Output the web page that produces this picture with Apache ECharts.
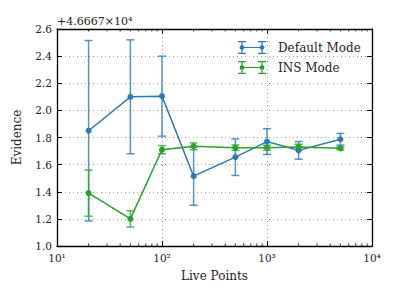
<!DOCTYPE html>
<html><head><meta charset="utf-8">
<script src="https://cdn.jsdelivr.net/npm/echarts@6/dist/echarts.min.js"></script>
<style>html,body{margin:0;padding:0;background:#fff}#c{width:399px;height:299px}</style>
</head><body><div id="c"></div>
<script>
// Data (evidence offsets relative to 4.6667e4)
const livePoints = [20, 50, 100, 200, 500, 1000, 2000, 5000];
const defaultMean = [1.85, 2.10, 2.105, 1.515, 1.655, 1.77, 1.705, 1.787];
const defaultErr  = [0.665, 0.42, 0.295, 0.215, 0.135, 0.095, 0.065, 0.043];
const insMean = [1.39, 1.20, 1.71, 1.735, 1.725, 1.725, 1.73, 1.72];
const insErr  = [0.17, 0.06, 0.03, 0.025, 0.02, 0.018, 0.02, 0.01];
const yTicks = [1.0, 1.2, 1.4, 1.6, 1.8, 2.0, 2.2, 2.4, 2.6];
const offsetLabel = '+4.6667×10⁴';
const seriesNames = ['Default Mode', 'INS Mode'];

const BLUE = '#2a7ab8', GREEN = '#2ca02c';
const FONT = 'DejaVu Serif';
const sup = {1:'¹',2:'²',3:'³',4:'⁴'};

const minorTicks = [];
for (let k = 1; k <= 3; k++) for (let m = 2; m <= 9; m++) minorTicks.push(m * Math.pow(10, k));

function errItem(color) {
  return function (params, api) {
    const x = api.value(0), lo = api.value(1), hi = api.value(2);
    const a = api.coord([x, lo]), b = api.coord([x, hi]);
    const w = 4;
    const st = { stroke: color, lineWidth: 1.5, opacity: 0.8 };
    return { type: 'group', children: [
      { type: 'line', shape: { x1: a[0], y1: a[1], x2: b[0], y2: b[1] }, style: st },
      { type: 'line', shape: { x1: a[0]-w, y1: a[1], x2: a[0]+w, y2: a[1] }, style: st },
      { type: 'line', shape: { x1: b[0]-w, y1: b[1], x2: b[0]+w, y2: b[1] }, style: st }
    ]};
  };
}

const chart = echarts.init(document.getElementById('c'), null, { renderer: 'svg' });
const axisCommon = {
  axisLine: { show: true, onZero: false, lineStyle: { color: '#000', width: 1.3 } },
  axisTick: { show: true, inside: true, length: 5, lineStyle: { color: '#000', width: 1 } },
};
const dot = (cx) => `M${cx-2.5},6.5L${cx-1.8},4.7L${cx},4L${cx+1.8},4.7L${cx+2.5},6.5L${cx+1.8},8.3L${cx},9L${cx-1.8},8.3Z`;
const errIcon = 'path://M4,6H24V7H4Z M3.4,0H4.6V13H3.4Z M0,0H8V1.2H0Z M0,11.8H8V13H0Z ' +
  'M23.4,0H24.6V13H23.4Z M20,0H28V1.2H20Z M20,11.8H28V13H20Z ' + dot(4) + ' ' + dot(24);

chart.setOption({
  animation: false,
  grid: { left: 57, right: 27, top: 29, bottom: 53 },
  graphic: [{ type: 'text', left: 57, top: 16, style: { text: offsetLabel, font: '11px "' + FONT + '"', fill: '#222' } }],
  legend: {
    orient: 'vertical', left: 233, top: 36, itemGap: 7,
    itemWidth: 28, itemHeight: 13, symbolKeepAspect: false,
    data: [
      { name: seriesNames[0], icon: errIcon, itemStyle: { color: BLUE } },
      { name: seriesNames[1], icon: errIcon, itemStyle: { color: GREEN } }
    ],
    textStyle: { fontFamily: FONT, fontSize: 12, color: '#222', padding: [0, 0, 0, 7] }
  },
  xAxis: [
    Object.assign({
      type: 'log', logBase: 10, min: 10, max: 10000, position: 'bottom',
      name: 'Live Points', nameLocation: 'middle', nameGap: 24,
      nameTextStyle: { fontFamily: FONT, fontSize: 12, color: '#222' },
      axisLabel: { fontFamily: FONT, fontSize: 10.5, color: '#222', margin: 6,
        formatter: v => '10' + sup[Math.round(Math.log10(v))] },
      splitLine: { show: true, lineStyle: { color: '#999', type: [1, 3], width: 1 } }
    }, axisCommon),
    Object.assign({
      type: 'log', logBase: 10, min: 10, max: 10000, position: 'top',
      axisLabel: { show: false }, splitLine: { show: false }
    }, axisCommon)
  ],
  yAxis: [
    Object.assign({
      type: 'value', min: 1.0, max: 2.6, interval: 0.2, position: 'left',
      name: 'Evidence', nameLocation: 'middle', nameGap: 34,
      nameTextStyle: { fontFamily: FONT, fontSize: 12, color: '#222' },
      axisLabel: { fontFamily: FONT, fontSize: 10.5, color: '#222', margin: 5,
        formatter: v => v.toFixed(1) },
      splitLine: { show: true, lineStyle: { color: '#999', type: [1, 3], width: 1 } }
    }, axisCommon),
    Object.assign({
      type: 'value', min: 1.0, max: 2.6, interval: 0.2, position: 'right',
      axisLabel: { show: false }, splitLine: { show: false }
    }, axisCommon)
  ],
  series: [
    { type: 'custom', name: seriesNames[0], renderItem: errItem(BLUE), clip: false, z: 3,
      data: livePoints.map((x, i) => [x, defaultMean[i] - defaultErr[i], defaultMean[i] + defaultErr[i]]) },
    { type: 'custom', name: seriesNames[1], renderItem: errItem(GREEN), clip: false, z: 3,
      data: livePoints.map((x, i) => [x, insMean[i] - insErr[i], insMean[i] + insErr[i]]) },
    { type: 'line', name: seriesNames[0], z: 4, symbol: 'circle', symbolSize: 6,
      itemStyle: { color: BLUE }, lineStyle: { color: BLUE, width: 1.5 },
      data: livePoints.map((x, i) => [x, defaultMean[i]]) },
    { type: 'line', name: seriesNames[1], z: 4, symbol: 'circle', symbolSize: 6,
      itemStyle: { color: GREEN }, lineStyle: { color: GREEN, width: 1.5 },
      data: livePoints.map((x, i) => [x, insMean[i]]) },
    { type: 'custom', name: 'minor', silent: true, clip: false, z: 5,
      renderItem: function (params, api) {
        const v = api.value(0);
        const b = api.coord([v, 1.0]), t = api.coord([v, 2.6]);
        const st = { stroke: '#000', lineWidth: 0.8 };
        return { type: 'group', children: [
          { type: 'line', shape: { x1: b[0], y1: b[1], x2: b[0], y2: b[1] - 2.5 }, style: st },
          { type: 'line', shape: { x1: t[0], y1: t[1], x2: t[0], y2: t[1] + 2.5 }, style: st }
        ]};
      },
      data: minorTicks.map(v => [v, 1.0]) }
  ]
});
</script>
</body></html>
